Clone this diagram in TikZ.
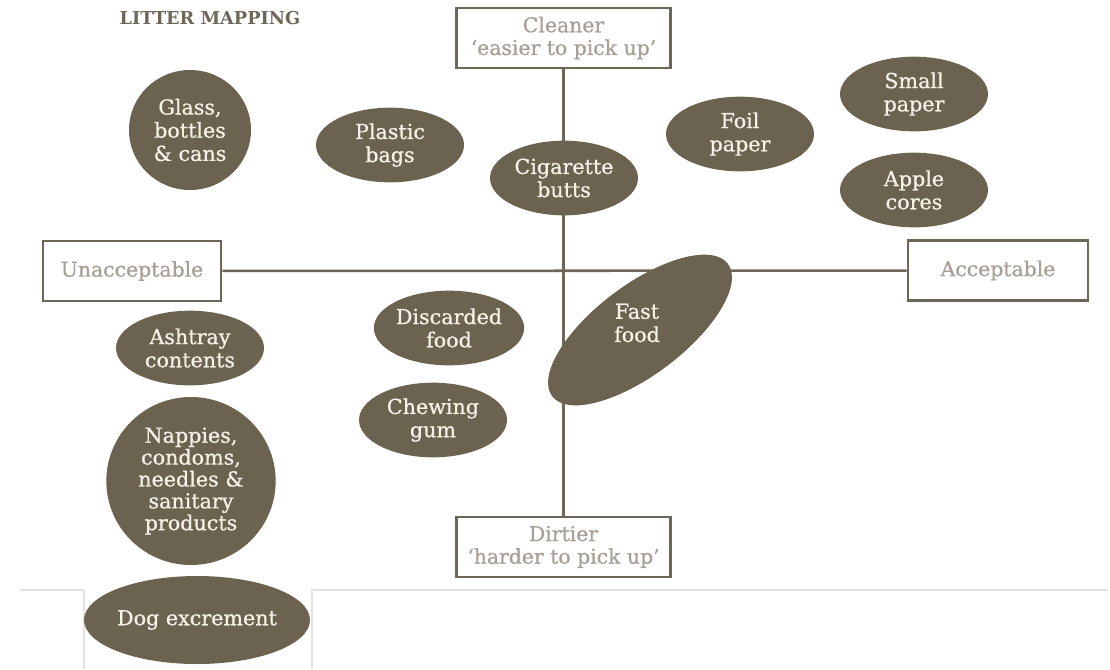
\documentclass[tikz,border=0pt]{standalone}
\usepackage{fontspec}
\setmainfont{DejaVu Serif}
\newfontfamily\slab[FakeBold=0.8,Ligatures=TeX]{DejaVu Serif}
\usetikzlibrary{shapes.geometric}
\definecolor{mud}{RGB}{107,98,80}
\definecolor{frame}{RGB}{110,103,88}
\definecolor{pale}{RGB}{168,160,148}
\definecolor{cream}{RGB}{245,241,232}
\definecolor{edge}{RGB}{226,226,226}

\begin{document}
\begin{tikzpicture}[x=0.75pt,y=-0.75pt,
  blob/.style={ellipse,fill=mud,text=cream,inner sep=0pt,minimum width=111pt,minimum height=56pt,
    align=center,font=\slab\fontsize{15.5}{17.4}\selectfont},
  label/.style={text=cream,align=center,font=\slab\fontsize{15.5}{17.4}\selectfont},
  axisbox/.style={draw=frame,line width=2.2pt,fill=white,text=pale,align=center,minimum height=45pt,
    font=\slab\fontsize{15.3}{17}\selectfont}]
 		\useasboundingbox (0,0) rectangle (1110,669);
 		\draw [edge,line width=0.8pt] (20,590) -- (84,590) -- (84,669);
 		\draw [edge,line width=0.8pt] (312,669) -- (312,590) -- (1108,590);
 		\node [text=frame,font=\bfseries\fontsize{13.3}{15}\selectfont] (title) at (210,18) {LITTER MAPPING};
 		\node [axisbox,minimum width=161pt] (v1) at (563.5,38) {Cleaner\\‘easier to pick up’};
 		\node [axisbox,minimum width=161pt] (v2) at (563.5,547) {Dirtier\\‘harder to pick up’};
 		\node [axisbox,minimum width=133.5pt] (h1) at (132,271) {Unacceptable};
 		\node [axisbox,minimum width=135pt] (h2) at (998,270.5) {Acceptable};
 		\draw [frame,line width=1.9pt] (v1) -- (v2);
 		\draw [frame,line width=1.9pt] (h1) -- (h2);
 		\node [blob,minimum width=91.5pt,minimum height=90pt] (glass) at (190,130) {Glass,\\bottles\\\& cans};
 		\node [blob] (plastic) at (390,145) {Plastic\\bags};
 		\node [blob] (cig) at (564,178) {Cigarette\\butts};
 		\node [blob] (foil) at (740,134) {Foil\\paper};
 		\node [blob] (small) at (914,94) {Small\\paper};
 		\node [blob] (apple) at (914,190) {Apple\\cores};
 		\node [blob,minimum width=165pt,minimum height=67.5pt,rotate=37] (fast) at (640,330) {};
 		\node [label] at (637,323) {Fast\\food};
 		\node [blob] (discarded) at (449,328) {Discarded\\food};
 		\node [blob] (ashtray) at (190,348) {Ashtray\\contents};
 		\node [blob] (gum) at (433,420) {Chewing\\gum};
 		\node [blob,minimum width=127pt,minimum height=126pt,font=\slab\fontsize{15.5}{16.4}\selectfont] (nappies) at (191,481) {Nappies,\\condoms,\\needles \&\\sanitary\\products};
 		\node [blob,minimum width=166.5pt,minimum height=66pt] (dog) at (197,620) {Dog excrement};
\end{tikzpicture}
\end{document}
